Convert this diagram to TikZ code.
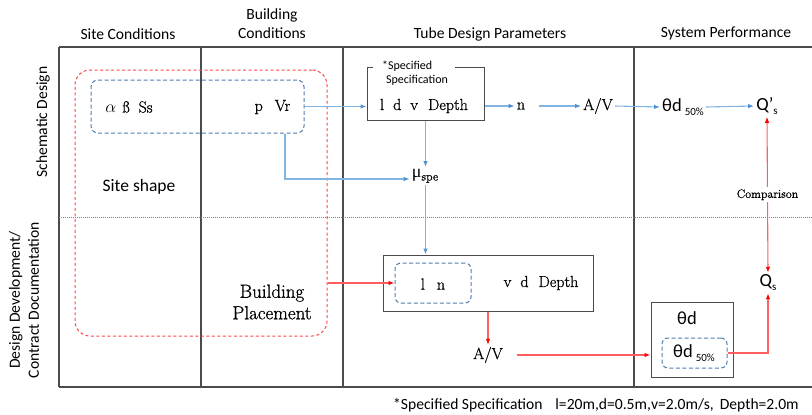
\documentclass[tikz,border=0pt]{standalone}
\usepackage{fontspec}
\newfontfamily\sans{Carlito}
\newfontfamily\grk{Liberation Serif}
\newfontfamily\serb{Latin Modern Roman}[FakeBold=0.8]
\usetikzlibrary{arrows.meta}
\definecolor{framec}{RGB}{75,75,75}
\definecolor{bline}{RGB}{130,180,225}
\definecolor{barrow}{RGB}{80,145,210}
\definecolor{bdash}{RGB}{80,125,175}
\definecolor{rline}{RGB}{255,95,95}
\definecolor{rarrow}{RGB}{255,0,0}
\definecolor{rdash}{RGB}{255,70,70}
\tikzset{
  framel/.style={draw=framec, line width=1.2pt},
  hdr/.style={font=\sans\fontsize{15.6}{19}\selectfont, align=center, inner sep=1pt},
  ser/.style={font=\serb\fontsize{16}{18}\selectfont, inner sep=2pt},
  sansbig/.style={font=\sans\fontsize{18.5}{20}\selectfont, inner sep=2pt},
  bl/.style={draw=bline, line width=1.1pt, -{Latex[length=6pt,width=4.5pt,color=barrow]}},
  rd/.style={draw=rline, line width=1.1pt, -{Latex[length=6pt,width=4.5pt,color=rarrow]}},
  boxc/.style={draw=framec, line width=1pt, inner sep=0pt},
  bdashbox/.style={draw=bdash, line width=1pt, dash pattern=on 4pt off 2.5pt, rounded corners=7pt, inner sep=0pt},
  rdashbox/.style={draw=rdash, line width=1pt, dash pattern=on 3pt off 2.5pt, rounded corners=15pt, inner sep=0pt}
}
\begin{document}
\begin{tikzpicture}[x=1pt,y=-1pt]
\useasboundingbox (0,0) rectangle (812,415);
% frame
\draw[framel] (59,47) -- (812,47);
\draw[framel] (59,387) -- (812,387);
\draw[framel] (59,47) -- (59,387);
\draw[framel] (201,47) -- (201,387);
\draw[framel] (343,47) -- (343,387);
\draw[framel] (634,47) -- (634,387);
\draw[draw=gray, line width=0.6pt, dash pattern=on 1pt off 1pt] (59,217) -- (812,217);
% headers
\node[hdr] (h1) at (128,34) {Site Conditions};
\node[hdr] (h2) at (272,24) {Building\\Conditions};
\node[hdr] (h3) at (490,34) {Tube Design Parameters};
\node[hdr] (h4) at (726,33) {System Performance};
\node[hdr, rotate=90] (v1) at (43,122) {Schematic Design};
\node[hdr, rotate=90] (v2) at (24,300) {Design Development/\\Contract Documentation};
% left area
\node[rdashbox, minimum width=252pt, minimum height=266pt] (redbox) at (201,203) {};
\node[bdashbox, minimum width=213pt, minimum height=53pt] (bluebox) at (197.5,106.5) {};
\node[ser] (ab) at (129,107) {$\alpha$\hspace{6pt}ß\hspace{9pt}Ss};
\node[ser] (pvr) at (272.5,107) {p\hspace{12pt}Vr};
\node[font=\sans\fontsize{17.5}{20}\selectfont] (ss) at (139,187) {Site shape};
\node[font=\serb\fontsize{19}{21.5}\selectfont, align=center] (bp) at (272,302) {Building\\Placement};
% tube design top
\node[boxc, minimum width=117pt, minimum height=53pt] (spec) at (425.5,93.5) {};
\node[font=\sans\fontsize{12}{14.5}\selectfont, fill=white, align=left, inner sep=1pt, minimum width=82pt] (speclab) at (414,73) {\hspace{2pt}*Specified\\\hspace{6pt}Specification};
\node[ser] (ldv) at (424,106) {l\hspace{9pt}d\hspace{9pt}v\hspace{10pt}Depth};
\node[ser] (n) at (521,106) {n};
\node[ser] (av1) at (598,106) {A/V};
\node[sansbig] (td1) at (683,107) {θd\hspace{3pt}\raisebox{-4pt}{\fontsize{11}{11}\selectfont 50\%}};
\node[sansbig] (qp) at (767,106) {Q’\raisebox{-4pt}{\fontsize{11}{11}\selectfont s}};
\node[ser] (mu) at (425,176) {{\grk\fontsize{18}{18}\selectfont μ}\raisebox{-3pt}{\fontsize{12}{12}\selectfont spe}};
% tube design bottom
\node[boxc, minimum width=210pt, minimum height=56pt] (mid) at (488,283) {};
\node[bdashbox, minimum width=76pt, minimum height=40pt, rounded corners=6pt] (ln) at (433,283) {};
\node[ser] (lntext) at (433,284) {l\hspace{12pt}n};
\node[ser] (vdd) at (541,283) {v\hspace{9pt}d\hspace{10pt}Depth};
\node[ser] (av2) at (488,355) {A/V};
% system performance bottom
\node[boxc, minimum width=82pt, minimum height=75pt] (tdbox) at (692,339.5) {};
\node[sansbig] (td) at (687,318) {θd};
\node[bdashbox, minimum width=65pt, minimum height=30pt, rounded corners=6pt] (td50) at (694.5,353) {};
\node[sansbig] (td50t) at (694,353) {θd\hspace{3pt}\raisebox{-4pt}{\fontsize{11}{11}\selectfont 50\%}};
\node[sansbig] (qs) at (768,283) {Q\raisebox{-4pt}{\fontsize{11}{11}\selectfont s}};
% footnote
\node[font=\sans\fontsize{15.6}{18}\selectfont, anchor=west, inner sep=0pt] (fn) at (393,405) {*Specified Specification\hspace{13pt}l=20m,d=0.5m,v=2.0m/s,\hspace{6pt}Depth=2.0m};
% blue connectors
\draw[bl] (bluebox.east) -- (spec.west |- bluebox.east);
\draw[bl] (spec.east |- ldv) -- (n.west |- ldv);
\draw[bl, shorten <=12pt] (n.east) -- (av1.west);
\draw[bl] (av1.east) -- (td1.west);
\draw[bl] (td1.east) -- (qp.west);
\draw[bl] (spec.south) -- (mu.north -| spec.south);
\draw[bl] ([xshift=87.5pt]bluebox.south) |- ([yshift=-3pt]mu.west);
\draw[bl] (mu.south -| spec.south) -- (mid.north -| spec.south);
% red connectors
\draw[rd] (redbox.east |- ln.west) -- (ln.west);
\draw[rd] (mid.south) -- (av2.north);
\draw[rd, shorten <=12pt] (av2.east) -- (tdbox.west |- av2.east);
\draw[rd] (td50.east) -| (qs.south);
\draw[rd, {Latex[length=6pt,width=4.5pt,color=rarrow]}-{Latex[length=6pt,width=4.5pt,color=rarrow]}] (qp.south) -- (qs.north)
  node[midway, fill=white, font=\serb\fontsize{12}{12}\selectfont, inner sep=2pt] (cmp) {Comparison};
\end{tikzpicture}
\end{document}
